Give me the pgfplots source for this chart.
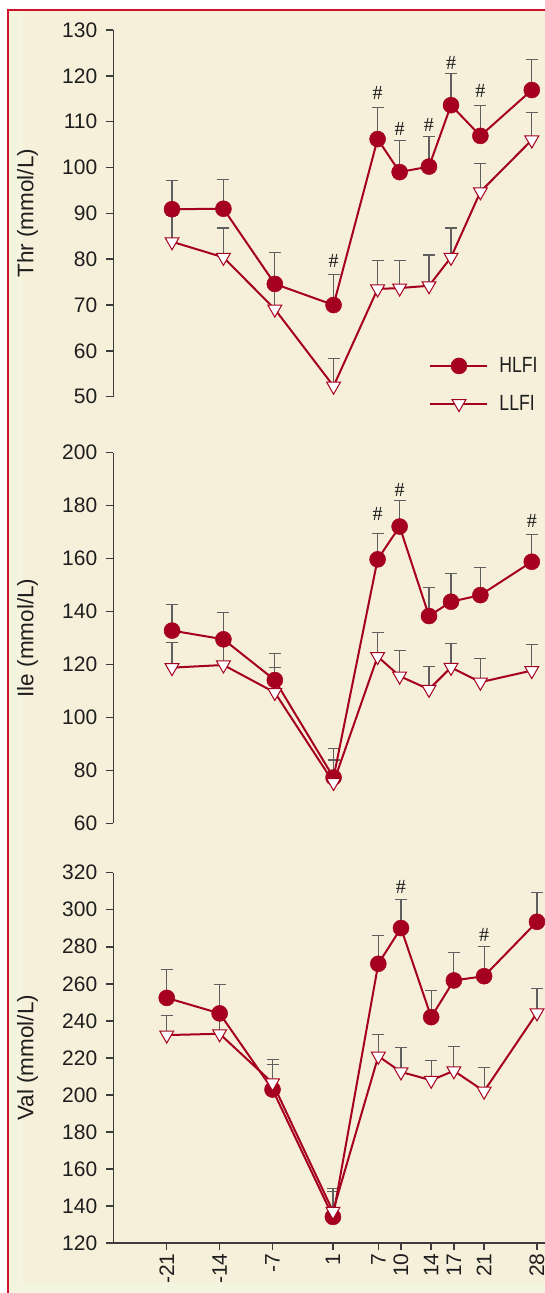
\documentclass[border=0pt]{standalone}
\usepackage{graphicx}
\usepackage{pgfplots}
\usepackage{pgfplotstable}
\pgfplotsset{compat=1.18}
\usepackage{fontspec}
\setmainfont{Liberation Sans}
\newfontfamily\hashfont{Liberation Serif}
\definecolor{bg}{RGB}{246,239,218}
\definecolor{bgg}{RGB}{243,245,222}
\definecolor{framered}{RGB}{208,16,44}
\definecolor{dred}{RGB}{166,0,32}
\definecolor{egray}{RGB}{95,95,95}
\definecolor{axgray}{RGB}{60,60,60}
\definecolor{txt}{RGB}{30,30,30}

% Thr
\pgfplotstableread{
x y e
-21 90.9 6.2
-14 91.0 6.4
-7 74.6 6.8
1 70.0 6.6
7 106.2 6.9
10 99.0 6.9
14 100.2 6.6
17 113.6 6.9
21 106.9 6.7
28 116.9 6.7
}\thrH
\pgfplotstableread{
x y e
-21 83.8 5.8
-14 80.4 6.4
-7 69.1 4.9
1 52.3 6.1
7 73.5 6.3
10 73.7 6.1
14 74.2 6.7
17 80.4 6.4
21 94.7 6.1
28 106.0 6.0
}\thrL
% Ile
\pgfplotstableread{
x y e
-21 132.8 9.8
-14 129.5 10.3
-7 114.1 10.1
1 77.3 11.0
7 159.7 9.7
10 172.1 10.0
14 138.3 10.7
17 143.7 10.6
21 146.2 10.5
28 158.8 10.4
}\ileH
\pgfplotstableread{
x y e
-21 118.8 9.4
-14 119.8 8.0
-7 109.4 9.5
1 75.4 8.5
7 123.0 9.0
10 115.6 9.7
14 110.6 8.8
17 118.9 9.0
21 113.3 8.8
28 117.7 9.8
}\ileL
% Val
\pgfplotstableread{
x y e
-21 252.4 15.3
-14 244.0 15.5
-7 202.9 13.5
1 134.1 13.8
7 270.8 15.3
10 290.1 15.3
14 242.0 14.4
17 261.8 15.0
21 264.1 15.9
28 293.5 15.9
}\valH
\pgfplotstableread{
x y e
-21 232.3 10.4
-14 233.0 10.0
-7 206.5 12.8
1 137.1 12.3
7 220.9 11.7
10 212.4 13.4
14 207.9 10.7
17 213.0 12.9
21 202.0 12.8
28 244.3 13.0
}\valL

\pgfplotsset{
  panel/.style={
    scale only axis, width=431.7pt,
    anchor=south west,
    axis line style={axgray, line width=1.5pt},
    tick style={axgray, line width=1.5pt},
    tick align=outside,
    major tick length=7pt,
    tick label style={font=\fontsize{21}{21}\selectfont, text=txt},
    /pgf/number format/assume math mode=true,
    /pgf/number format/1000 sep={},
    yticklabel style={anchor=east, xshift=-5.5pt},
    every axis y label/.style={at={(axis description cs:-0.1987,0.5)}, rotate=90, anchor=center, font=\fontsize{22.5}{22.5}\selectfont, text=txt},
    clip=false,
  },
  ebar/.style={draw=none, mark=none, forget plot,
    error bars/.cd, y dir=plus, y explicit,
    error bar style={draw=egray, line width=1.1pt},
    error mark options={draw=egray, line width=1.1pt, mark size=6pt, rotate=90}},
  hl/.style={dred, line width=2pt, mark=*, mark size=8pt, mark options={fill=dred, draw=dred, line width=0.5pt}},
  ll/.style={dred, line width=2pt, mark=triangle*, mark size=8pt, mark options={fill=white, draw=dred, line width=1pt, rotate=180}},
}
\tikzset{hash/.style={font=\hashfont\fontsize{20}{20}\selectfont, text=txt, anchor=base, inner sep=0pt}}

\begin{document}
\begin{tikzpicture}
\useasboundingbox (0,0) rectangle (545pt,1293pt);
\fill[bg] (8pt,0) rectangle (545pt,1283pt);
\fill[bgg] (9pt,0) rectangle (23pt,1283pt);
\fill[bgg] (9pt,0) rectangle (545pt,9.7pt);
\draw[framered, line width=2pt] (8.3pt,0) -- (8.3pt,1283pt) -- (546pt,1283pt);

% Panel 1: Thr
\begin{axis}[panel, at={(113.3pt,896.3pt)}, height=366.7pt,
  axis y line*=left, axis x line=none,
  xmin=-29, xmax=29.8, ymin=50, ymax=130, ytick={50,60,...,130},
  ylabel={Thr (mmol/L)},
  legend style={draw=none, fill=none, at={(axis description cs:0.725,0.118)}, anchor=north west,
    font=\fontsize{22}{22}\selectfont, row sep=17pt, column sep=9pt, nodes={inner sep=2pt, text=txt}},
  legend cell align=left,
  legend image code/.code={\draw[mark repeat=2,mark phase=2,#1] plot coordinates {(0pt,0pt) (28.5pt,0pt) (57pt,0pt)};},
]
\addplot[ebar] table[x=x,y=y,y error=e] {\thrL};
\addplot[ebar] table[x=x,y=y,y error=e] {\thrH};
\addplot[hl] table[x=x,y=y] {\thrH};
\addplot[ll] table[x=x,y=y] {\thrL};
\legend{\scalebox{0.8}[1]{HLFI},\scalebox{0.8}[1]{LLFI}}
\node[hash] at (axis cs:1,78.1) {\#};
\node[hash] at (axis cs:7,114.9) {\#};
\node[hash] at (axis cs:10,106.9) {\#};
\node[hash] at (axis cs:14,107.8) {\#};
\node[hash] at (axis cs:17,121.3) {\#};
\node[hash] at (axis cs:21,115.2) {\#};
\end{axis}

% Panel 2: Ile
\begin{axis}[panel, at={(113.3pt,469.7pt)}, height=370.6pt,
  axis y line*=left, axis x line=none,
  xmin=-29, xmax=29.8, ymin=60, ymax=200, ytick={60,80,...,200},
  ylabel={Ile (mmol/L)},
]
\addplot[ebar] table[x=x,y=y,y error=e] {\ileL};
\addplot[ebar] table[x=x,y=y,y error=e] {\ileH};
\addplot[hl] table[x=x,y=y] {\ileH};
\addplot[ll] table[x=x,y=y] {\ileL};
\node[hash] at (axis cs:7,174.3) {\#};
\node[hash] at (axis cs:10,183.4) {\#};
\node[hash] at (axis cs:28,171.7) {\#};
\end{axis}

% Panel 3: Val
\begin{axis}[panel, at={(113.3pt,50pt)}, height=370.3pt,
  axis lines*=left,
  xmin=-28.07, xmax=29.06, ymin=120, ymax=320, ytick={120,140,...,320},
  xtick={-21,-14,-7,1,7,10,14,17,21,28},
  xticklabels={-21,-14,-7,1,7,10,14,17,21,28},
  xticklabel style={rotate=90, anchor=east},
  ylabel={Val (mmol/L)},
]
\addplot[ebar] table[x=x,y=y,y error=e] {\valL};
\addplot[ebar] table[x=x,y=y,y error=e] {\valH};
\addplot[hl] table[x=x,y=y] {\valH};
\addplot[ll] table[x=x,y=y] {\valL};
\node[hash] at (axis cs:10,308.8) {\#};
\node[hash] at (axis cs:21,282.7) {\#};
\end{axis}
\end{tikzpicture}
\end{document}
